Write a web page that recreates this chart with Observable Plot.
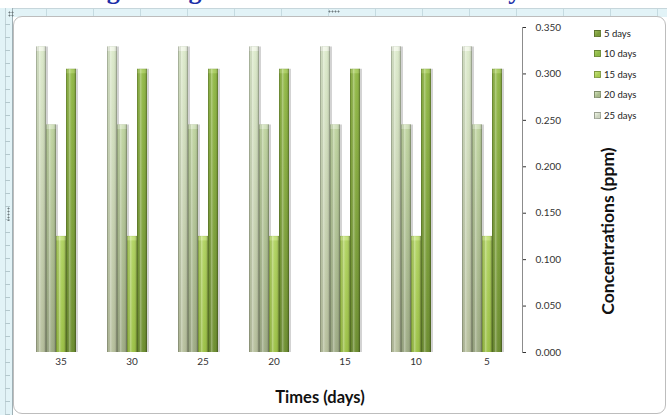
<!DOCTYPE html>
<html>
<head>
<meta charset="utf-8">
<script src="https://cdn.jsdelivr.net/npm/d3@7"></script>
<script src="https://cdn.jsdelivr.net/npm/@observablehq/plot@0.6"></script>
<style>
  body { margin: 0; background: #fff; }
  #page { position: relative; width: 667px; height: 415px; overflow: hidden; background: #fff;
          font-family: Lato, "Open Sans", sans-serif; }
  #headline { position: absolute; left: 0; top: 0; width: 667px; height: 8px; overflow: hidden; }
  #headline span { position: absolute; left: 22px; top: -22px; white-space: nowrap;
          font: bold 26px/26px "Liberation Serif", "Times New Roman", serif; color: #1c2fa8; }
  #rulerTop { position: absolute; left: 0; top: 8px; width: 667px; height: 8px;
          background: repeating-linear-gradient(90deg, #e2f3f7 0 46px, #c5dbe1 46px 47px);
          border-top: 1px solid #c6d6db; }
  #rulerLeft { position: absolute; left: 0; top: 8px; width: 12px; height: 407px; background: #e2f3f7;
          border-right: 1px solid #9fb0b5; }
  #rulerLeft .ticks { position: absolute; left: 5px; top: 4px; width: 5px; bottom: 0;
          background: repeating-linear-gradient(180deg, transparent 0 12px, #b4c8cd 12px 13px); }
  #rulerLeft .edge { position: absolute; left: 5px; top: 0; width: 1px; bottom: 0; background: #c2d3d8; }
  #box { position: absolute; left: 13px; top: 16px; width: 651px; height: 396px;
          border: 1px solid #bdbdbd; border-radius: 9px; background: #fff; }
  .grip { position: absolute; background: radial-gradient(circle, #6f7c80 0 0.8px, transparent 1.2px);
          background-size: 3px 3px; }
  #chart { position: absolute; left: 0; top: 0; }
  #xTitle { position: absolute; left: 320px; top: 397px; transform: translate(-50%, -50%);
          font-weight: bold; font-size: 16.5px; color: #111; white-space: nowrap; }
  #yTitle { position: absolute; left: 607px; top: 231px; transform: translate(-50%, -50%) rotate(-90deg);
          font-weight: bold; font-size: 17.5px; color: #111; white-space: nowrap; }
  #legend .item { position: absolute; left: 594px; height: 12px; display: flex; align-items: center;
          font-size: 9.5px; color: #222; white-space: nowrap; }
  #legend .sw { width: 5px; height: 5px; margin-right: 3px; border: 0.5px solid rgba(0,0,0,0.25); }
</style>
</head>
<body>
<div id="page">
  <div id="headline"><span>Growing during time in contaminated soil by Surfactant</span></div>
  <div id="rulerTop"></div>
  <div id="rulerLeft"><div class="edge"></div><div class="ticks"></div></div>
  <div class="grip" style="left:8px;top:11px;width:6px;height:6px"></div>
  <div class="grip" style="left:328px;top:10px;width:12px;height:3px"></div>
  <div class="grip" style="left:7px;top:207px;width:3px;height:14px"></div>
  <div id="box"></div>
  <div id="chart"></div>
  <div id="xTitle">Times (days)</div>
  <div id="yTitle">Concentrations (ppm)</div>
  <div id="legend"></div>
</div>
<script>
// Sampling times (days), in the order they appear along the axis
const timeLabels = [35, 30, 25, 20, 15, 10, 5];

// Series, as listed in the legend, and their order inside each cluster
const seriesNames = ["5 days", "10 days", "15 days", "20 days", "25 days"];
const clusterOrder = ["25 days", "20 days", "15 days", "10 days", "5 days"];

// Concentrations (ppm) per series, one value per sampling time
const conc5days  = [0.000, 0.000, 0.000, 0.000, 0.000, 0.000, 0.000];
const conc10days = [0.305, 0.305, 0.305, 0.305, 0.305, 0.305, 0.305];
const conc15days = [0.125, 0.125, 0.125, 0.125, 0.125, 0.125, 0.125];
const conc20days = [0.245, 0.245, 0.245, 0.245, 0.245, 0.245, 0.245];
const conc25days = [0.329, 0.329, 0.329, 0.329, 0.329, 0.329, 0.329];

// Value axis ticks
const yTickValues = [0, 0.05, 0.10, 0.15, 0.20, 0.25, 0.30, 0.35];

// Colours (same order as seriesNames)
const bodyTop    = ["#88a848", "#93ba48", "#b2d463", "#bfd4a0", "#dceacb"];
const bodyBottom = ["#64822c", "#6d8e30", "#9cc146", "#9eab85", "#b6bf9c"];
const capColors  = ["#9dbb5c", "#aacd62", "#c6e37e", "#d2e2bc", "#f0f6e6"];
const swatchColors = ["#7b9b3b", "#8eb947", "#a8cc52", "#a9bb8c", "#cdd5c1"];

const seriesColumns = [conc5days, conc10days, conc15days, conc20days, conc25days];
const rows = seriesNames.flatMap((s, k) =>
  timeLabels.map((t, i) => ({time: t, series: s, value: seriesColumns[k][i]}))
);

const chart = Plot.plot({
  width: 667,
  height: 415,
  marginLeft: 22,
  marginRight: 143,
  marginTop: 27,
  marginBottom: 63,
  style: {background: "none", fontFamily: "Lato, 'Open Sans', sans-serif", fontSize: "10px", color: "#333", overflow: "visible"},
  fx: {domain: timeLabels, padding: 0, label: null, tickSize: 0, tickPadding: 5, axis: "bottom"},
  x: {domain: clusterOrder, paddingInner: 0, paddingOuter: 0.75, axis: null},
  y: {domain: [0, 0.35], ticks: yTickValues, tickFormat: d3.format(".3f"), axis: "right",
      tickSize: 3, tickPadding: 10, label: null},
  marks: [
    // soft drop shadow to the right of each column
    Plot.barY(rows, {fx: "time", x: "series", y: "value", dx: 2, fill: "#808080", fillOpacity: 0.35,
                     filter: d => d.value > 0}),
    // column bodies
    ...seriesNames.map((s, k) => Plot.barY(rows, {
      fx: "time", x: "series", y: "value", fill: `url(#body${k})`, filter: d => d.series === s
    })),
    // lighter rounded caps on top of each column
    ...seriesNames.map((s, k) => Plot.tickY(rows, {
      fx: "time", x: "series", y: "value", dy: 2, stroke: capColors[k], strokeWidth: 4,
      filter: d => d.series === s && d.value > 0
    })),
    // cylinder shading across every column
    Plot.barY(rows, {fx: "time", x: "series", y: "value", fill: "url(#cylinder)"}),
    // value axis line on the right
    Plot.frame({anchor: "right", facetAnchor: "right", stroke: "#8c8c8c"})
  ]
});

// gradients used by the columns
const defs = `<defs>
${seriesNames.map((s, k) => `<linearGradient id="body${k}" x1="0" y1="0" x2="0" y2="1">
  <stop offset="0" stop-color="${bodyTop[k]}"/><stop offset="1" stop-color="${bodyBottom[k]}"/>
</linearGradient>`).join("")}
<linearGradient id="cylinder" x1="0" y1="0" x2="1" y2="0">
  <stop offset="0" stop-color="#000" stop-opacity="0.38"/>
  <stop offset="0.12" stop-color="#000" stop-opacity="0.04"/>
  <stop offset="0.35" stop-color="#fff" stop-opacity="0.28"/>
  <stop offset="0.6" stop-color="#fff" stop-opacity="0"/>
  <stop offset="0.86" stop-color="#000" stop-opacity="0.1"/>
  <stop offset="1" stop-color="#000" stop-opacity="0.4"/>
</linearGradient>
</defs>`;
chart.insertAdjacentHTML("afterbegin", defs);
document.getElementById("chart").appendChild(chart);

// legend
const legend = document.getElementById("legend");
seriesNames.forEach((s, k) => {
  const item = document.createElement("div");
  item.className = "item";
  item.style.top = (27 + k * 20.6) + "px";
  const sw = document.createElement("span");
  sw.className = "sw";
  sw.style.background = `linear-gradient(135deg, ${capColors[k]}, ${swatchColors[k]} 60%)`;
  item.appendChild(sw);
  item.appendChild(document.createTextNode(s));
  legend.appendChild(item);
});
</script>
</body>
</html>
